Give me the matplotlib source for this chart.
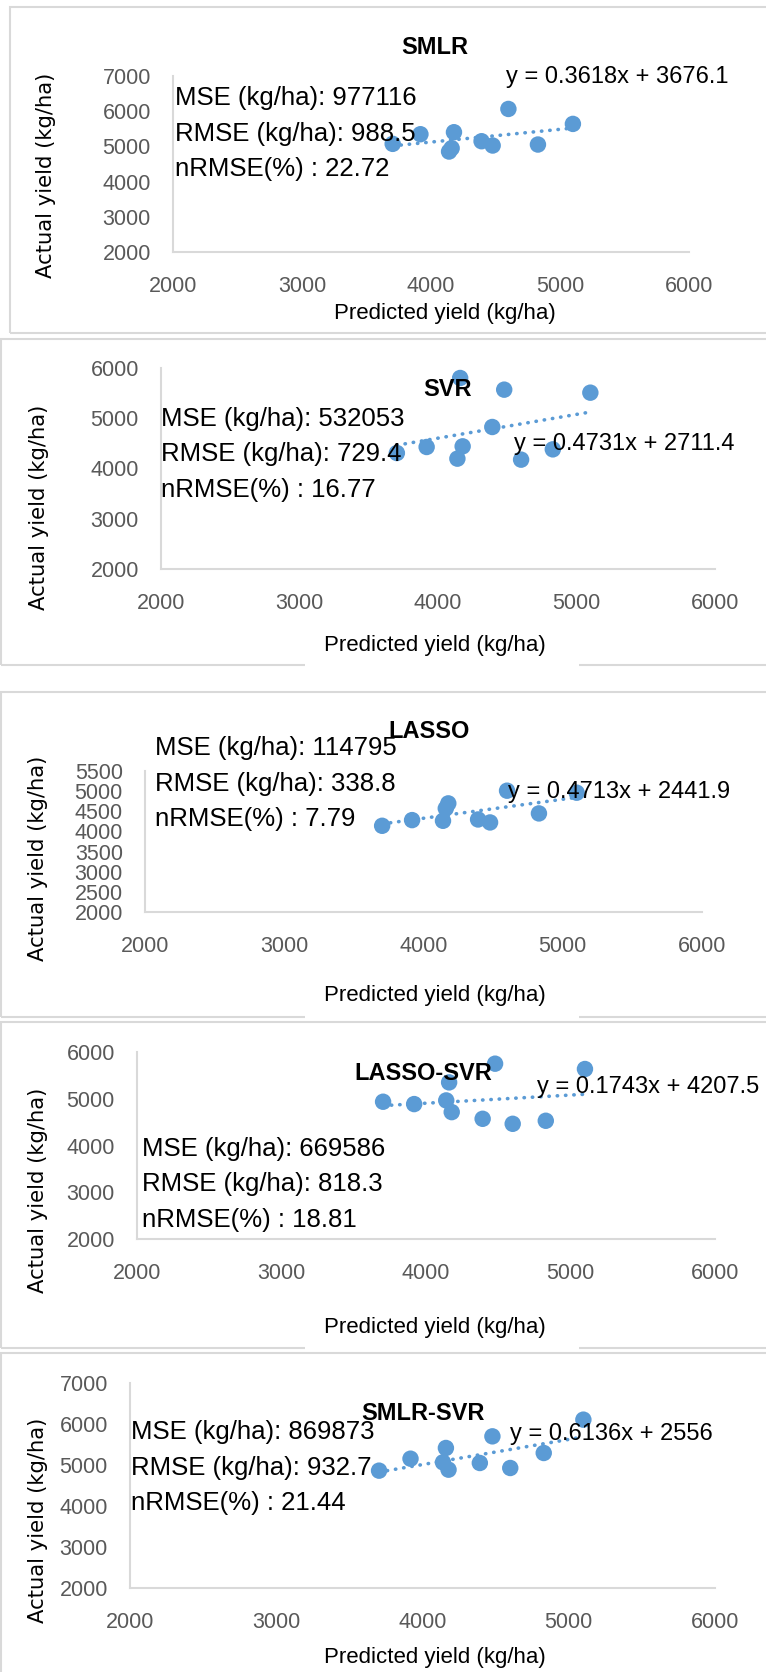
import matplotlib
matplotlib.use('Agg')
import matplotlib.pyplot as plt
from matplotlib.patches import Rectangle

plt.rcParams['font.family'] = ['Liberation Sans', 'DejaVu Sans']

# x axis values (same for every model)
x_vals = [3703, 3918, 4140, 4160, 4178, 4392, 4478, 4600, 4829, 5100]

# y values per model
smlr = [5072, 5346, 4854, 4949, 5403, 5147, 5025, 6064, 5053, 5639]
svr = [4308, 4428, 4196, 5801, 4441, 4826, 5569, 4176, 4381, 5509]
lasso = [4140, 4281, 4264, 4571, 4696, 4297, 4223, 5011, 4447, 4961]
lasso_svr = [4936, 4886, 4964, 5350, 4714, 4571, 5750, 4464, 4529, 5636]
smlr_svr = [4862, 5154, 5065, 5415, 4886, 5049, 5699, 4927, 5293, 6106]

models = ['SMLR', 'SVR', 'LASSO', 'LASSO-SVR', 'SMLR-SVR']
slopes = [0.3618, 0.4731, 0.4713, 0.1743, 0.6136]
intercepts = [3676.1, 2711.4, 2441.9, 4207.5, 2556]
eq_labels = ['y = 0.3618x + 3676.1', 'y = 0.4731x + 2711.4', 'y = 0.4713x + 2441.9',
             'y = 0.1743x + 4207.5', 'y = 0.6136x + 2556']
mse = ['977116', '532053', '114795', '669586', '869873']
rmse = ['988.5', '729.4', '338.8', '818.3', '932.7']
nrmse = ['22.72', '16.77', '7.79', '18.81', '21.44']
y_tops = [7000, 6000, 5500, 6000, 7000]
y_steps = [1000, 1000, 500, 1000, 1000]

W, H = 766, 1672
fig = plt.figure(figsize=(W / 100, H / 100), dpi=100)

# pixel layout for each panel
frames = [(10, 7, 333), (1, 339, 665), (1, 692, 1017), (1, 1022, 1348), (1, 1353, 1690)]
axes_px = [(173, 76, 689, 252), (161, 368, 715, 569), (145, 771, 702, 912),
           (137, 1052, 715, 1239), (130, 1383, 715, 1588)]
title_px = [(435, 48), (448, 390), (429, 732), (423, 1074), (423, 1414)]
stats_px = [(175, 98), (161, 419), (155, 748), (142, 1149), (131, 1432)]
eq_px = [(506, 77), (514, 444), (508, 792), (537, 1087), (510, 1434)]
xlab_px = [(445, 313), (435, 645), (435, 995), (435, 1327), (435, 1658)]
ylab_px = [(46, 175), (39, 507), (38, 858), (38, 1190), (38, 1520)]

blue = '#5B9BD5'
grid = '#D9D9D9'


def fx(x):
    return x / W


def fy(y):
    return 1 - y / H


ys_all = [smlr, svr, lasso, lasso_svr, smlr_svr]

for i, name in enumerate(models):
    # panel frame
    l, t, b = frames[i]
    fig.add_artist(Rectangle((fx(l), fy(b)), fx(W + 10 - l), (b - t) / H,
                             transform=fig.transFigure, fill=False,
                             ec=grid, lw=1.5, zorder=1))
    if i in (1, 2, 3):
        fig.add_artist(Rectangle((fx(305), fy(b + 3)), fx(274), 6 / H,
                                 transform=fig.transFigure, fc='white',
                                 ec='none', zorder=2))

    al, at, ar, ab = axes_px[i]
    ax = fig.add_axes([fx(al), fy(ab), (ar - al) / W, (ab - at) / H])
    ax.set_facecolor('none')
    ax.set_xlim(2000, 6000)
    ax.set_ylim(2000, y_tops[i])
    ax.set_xticks(range(2000, 6001, 1000))
    ax.set_yticks(range(2000, y_tops[i] + 1, y_steps[i]))
    for s in ['top', 'right']:
        ax.spines[s].set_visible(False)
    for s in ['left', 'bottom']:
        ax.spines[s].set_color(grid)
        ax.spines[s].set_linewidth(1.5)
    ax.tick_params(axis='both', length=0, labelsize=15.5, labelcolor='#595959')
    ax.tick_params(axis='y', pad=16)
    ax.tick_params(axis='x', pad=17.5)

    ax.scatter(x_vals, ys_all[i], s=140, color=blue, edgecolors='none',
               zorder=3, clip_on=False)
    xl = [min(x_vals), max(x_vals)]
    yl = [slopes[i] * v + intercepts[i] for v in xl]
    ax.plot(xl, yl, color=blue, lw=2.6, dashes=(0.1, 2.2),
            dash_capstyle='round', zorder=2, clip_on=False)

    # labels and annotations
    tx, ty = title_px[i]
    fig.text(fx(tx), fy(ty), name, ha='center', va='center',
             fontsize=17, fontweight='bold', zorder=5)
    sx, sy = stats_px[i]
    lines = ['MSE (kg/ha): ' + mse[i], 'RMSE (kg/ha): ' + rmse[i],
             'nRMSE(%) : ' + nrmse[i]]
    for k, txt in enumerate(lines):
        fig.text(fx(sx), fy(sy + k * 35.5), txt, ha='left', va='center',
                 fontsize=18.5, zorder=5)
    ex, ey = eq_px[i]
    fig.text(fx(ex), fy(ey), eq_labels[i], ha='left', va='center',
             fontsize=17, zorder=5)
    lx, ly = xlab_px[i]
    fig.text(fx(lx), fy(ly), 'Predicted yield (kg/ha)', ha='center',
             va='center', fontsize=16, zorder=5)
    vx, vy = ylab_px[i]
    fig.text(fx(vx), fy(vy), 'Actual yield (kg/ha)', ha='center',
             va='center', rotation=90, fontsize=15.2, family='DejaVu Sans',
             zorder=5)

fig.savefig('out.png', dpi=100)
